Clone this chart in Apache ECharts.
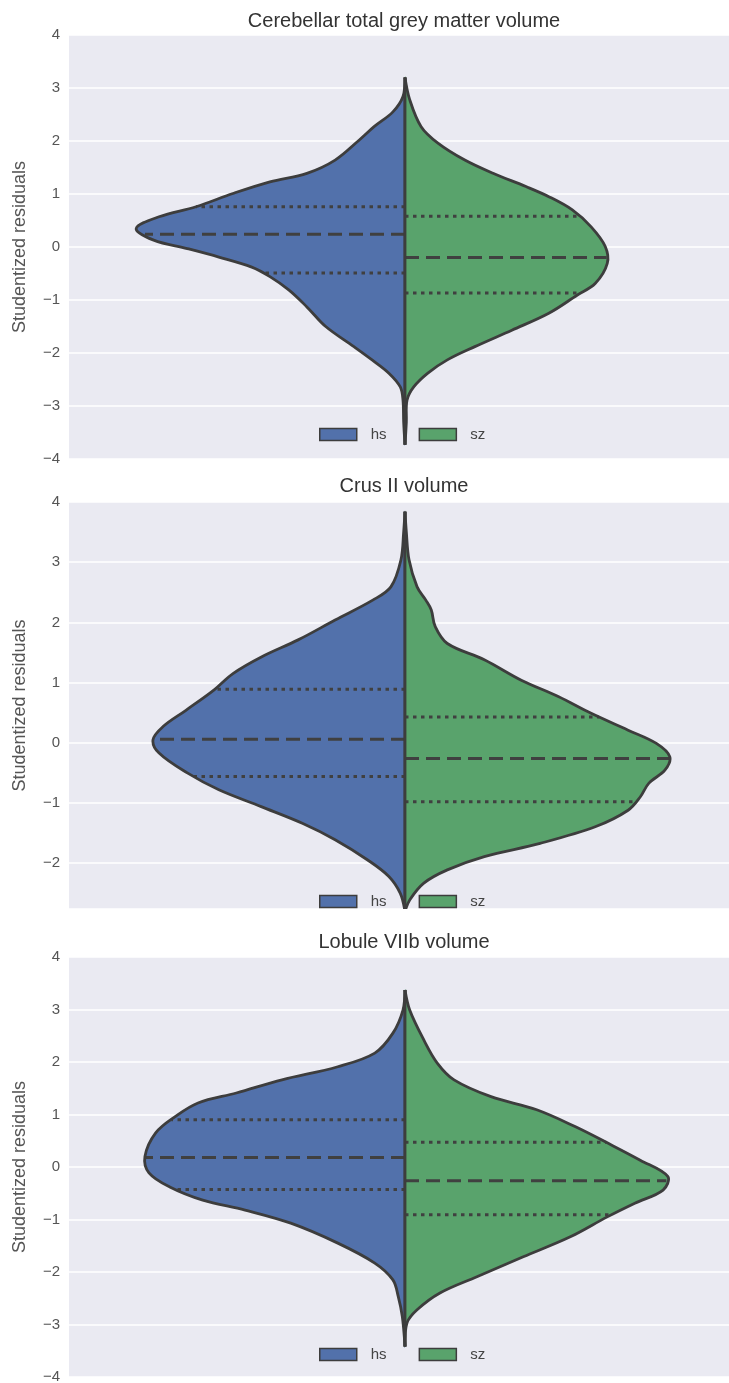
<!DOCTYPE html>
<html><head><meta charset="utf-8">
<script src="https://cdn.jsdelivr.net/npm/echarts@6/dist/echarts.min.js"></script>
<style>html,body{margin:0;padding:0;background:#fff}#c{width:729px;height:1383px}</style>
</head><body><div id="c"></div>
<script>
// ---- data ----
const categories = ['hs', 'sz'];
const panelTitles = ['Cerebellar total grey matter volume', 'Crus II volume', 'Lobule VIIb volume'];
const yAxisName = 'Studentized residuals';

// Panel 1: Cerebellar total grey matter volume  (y = residual, w = half-width of the density)
const p1HsY = [3.20, 2.84, 2.55, 2.27, 2.02, 1.64, 1.39, 1.23, 1.01, 0.76, 0.57, 0.35, 0.13, -0.03, -0.19, -0.38, -0.56, -0.81, -1.13, -1.50, -1.88, -2.13, -2.38, -2.64, -2.89, -3.30, -3.73];
const p1HsW = [0, .003, .018, .046, .068, .104, .146, .201, .256, .311, .366, .400, .374, .324, .277, .228, .201, .173, .146, .118, .076, .049, .024, .007, .003, .002, 0];
const p1SzY = [3.20, 2.78, 2.27, 1.96, 1.64, 1.39, 1.14, 0.95, 0.70, 0.38, 0.01, -0.31, -0.69, -0.91, -1.25, -1.57, -1.88, -2.13, -2.38, -2.64, -2.89, -3.30, -3.73];
const p1SzW = [0, .007, .024, .049, .089, .131, .180, .214, .249, .277, .298, .301, .283, .256, .214, .159, .104, .063, .034, .013, .003, .002, 0];
const p1HsQ = [0.76, 0.24, -0.49];
const p1SzQ = [0.58, -0.20, -0.87];

// Panel 2: Crus II volume
const p2HsY = [3.84, 3.50, 3.04, 2.59, 2.37, 2.04, 1.71, 1.43, 1.15, 0.88, 0.54, 0.27, 0.05, -0.17, -0.50, -0.78, -1.06, -1.34, -1.61, -1.95, -2.22, -2.50, -2.80];
const p2HsW = [0, .002, .006, .021, .048, .104, .159, .213, .256, .284, .326, .360, .375, .366, .324, .277, .214, .152, .104, .055, .024, .007, 0];
const p2SzY = [3.84, 3.50, 3.04, 2.59, 2.37, 2.21, 1.93, 1.65, 1.38, 1.04, 0.77, 0.49, 0.21, -0.01, -0.23, -0.45, -0.67, -0.90, -1.12, -1.39, -1.67, -1.89, -2.11, -2.33, -2.61, -2.80];
const p2SzW = [0, .002, .006, .018, .031, .039, .045, .063, .118, .173, .228, .277, .332, .374, .394, .387, .363, .350, .332, .284, .201, .118, .063, .028, .007, 0];
const p2HsQ = [0.89, 0.06, -0.56];
const p2SzQ = [0.43, -0.26, -0.98];

// Panel 3: Lobule VIIb volume
const p3HsY = [3.37, 2.99, 2.55, 2.17, 1.91, 1.66, 1.41, 1.22, 0.96, 0.65, 0.20, -0.11, -0.38, -0.63, -0.82, -1.07, -1.45, -1.83, -2.15, -2.47, -2.85, -3.42];
const p3HsW = [0, .003, .018, .045, .100, .183, .251, .308, .342, .371, .387, .381, .350, .301, .238, .170, .100, .045, .018, .010, .004, 0];
const p3SzY = [3.37, 2.99, 2.42, 1.98, 1.66, 1.34, 1.09, 0.77, 0.46, 0.13, -0.18, -0.44, -0.69, -0.95, -1.33, -1.71, -2.09, -2.40, -2.72, -2.97, -3.42];
const p3SzW = [0, .007, .028, .048, .073, .128, .196, .253, .301, .350, .391, .384, .342, .301, .246, .176, .107, .052, .018, .003, 0];
const p3HsQ = [0.90, 0.18, -0.43];
const p3SzQ = [0.47, -0.26, -0.91];

const yRanges = [[-4, 4], [-2.76, 4], [-4, 4]];

// ---- styling ----
const colors = ['#5271AB', '#59A36C'];
const edge = '#3d3d3d';
const FONT = 'Liberation Sans, Arial, sans-serif';
const layout = [
  { top: 35, height: 424, titleTop: 11, legendTop: 427 },
  { top: 502, height: 407, titleTop: 476, legendTop: 894 },
  { top: 957, height: 420, titleTop: 932, legendTop: 1347 }
];
const panels = [
  { hs: { y: p1HsY, w: p1HsW, q: p1HsQ }, sz: { y: p1SzY, w: p1SzW, q: p1SzQ } },
  { hs: { y: p2HsY, w: p2HsW, q: p2HsQ }, sz: { y: p2SzY, w: p2SzW, q: p2SzQ } },
  { hs: { y: p3HsY, w: p3HsW, q: p3HsQ }, sz: { y: p3SzY, w: p3SzW, q: p3SzQ } }
];

function widthAt(ys, ws, v) {
  for (let i = 0; i < ys.length - 1; i++) {
    const a = ys[i], b = ys[i + 1];
    if (v <= a && v >= b) {
      const t = (a - v) / (a - b);
      return ws[i] + t * (ws[i + 1] - ws[i]);
    }
  }
  return 0;
}

function makeSeries(pi, gi) {
  const side = gi === 0 ? -1 : 1;
  const d = panels[pi][categories[gi]];
  return {
    type: 'custom', name: categories[gi], xAxisIndex: pi, yAxisIndex: pi, clip: true,
    itemStyle: { color: colors[gi] },
    data: [[0, 0]],
    silent: true,
    renderItem: function (params, api) {
      const pts = d.y.map((v, i) => api.coord([side * d.w[i], v]));
      const c0 = api.coord([0, d.y[0]]);
      const c1 = api.coord([0, d.y[d.y.length - 1]]);
      const children = [
        { type: 'polygon', shape: { points: pts, smooth: 0.35 }, style: { fill: colors[gi], stroke: null, lineWidth: 0 } }
      ];
      d.q.forEach((q, k) => {
        const w = widthAt(d.y, d.w, q);
        const a = api.coord([0, q]), b = api.coord([side * w, q]);
        children.push({
          type: 'line', shape: { x1: a[0], y1: a[1], x2: b[0], y2: b[1] },
          style: { stroke: '#404040', lineWidth: 3, lineDash: k === 1 ? [14, 7] : [3.5, 4.5] }
        });
      });
      children.push({ type: 'polyline', shape: { points: pts, smooth: 0.35 }, style: { fill: null, stroke: edge, lineWidth: 2.8 } });
      children.push({ type: 'line', shape: { x1: c0[0], y1: c0[1], x2: c1[0], y2: c1[1] }, style: { stroke: edge, lineWidth: 2.8 } });
      return { type: 'group', children: children };
    }
  };
}

const grids = [], xAxes = [], yAxes = [], titles = [], legends = [], series = [];
layout.forEach((L, i) => {
  grids.push({ left: 69, width: 672, top: L.top, height: L.height, show: true, backgroundColor: '#EAEAF2', borderWidth: 0, outerBoundsMode: 'none', containLabel: false });
  xAxes.push({ gridIndex: i, type: 'value', min: -0.5, max: 0.5, show: false });
  const yr = yRanges[i];
  const ya = {
    gridIndex: i, type: 'value', min: yr[0], max: yr[1],
    axisLine: { show: false }, axisTick: { show: false },
    splitLine: { show: true, lineStyle: { color: '#ffffff', width: 1.6 } },
    axisLabel: {
      color: '#555', fontSize: 15, margin: 9, fontFamily: FONT,
      formatter: v => Number.isInteger(v) ? (v < 0 ? '\u2212' + (-v) : String(v)) : ''
    },
    name: yAxisName, nameLocation: 'middle', nameGap: 40,
    nameTextStyle: { fontSize: 18, color: '#555', fontFamily: FONT }
  };
  if (Number.isInteger(yr[0])) ya.interval = 1; else ya.splitNumber = 7;
  yAxes.push(ya);
  titles.push({
    text: panelTitles[i], left: 404, textAlign: 'center', top: L.titleTop, padding: 0,
    textStyle: { fontSize: 20, fontWeight: 'normal', color: '#333', fontFamily: FONT }
  });
  legends.push({
    left: 319, top: L.legendTop, padding: 0, itemWidth: 37, itemHeight: 12, itemGap: 32,
    icon: 'rect', selectedMode: false, data: categories,
    itemStyle: { borderColor: edge, borderWidth: 1.5 },
    textStyle: { fontSize: 15, color: '#444', fontFamily: FONT, padding: [0, 0, 0, 9] }
  });
  series.push(makeSeries(i, 0), makeSeries(i, 1));
});

const chart = echarts.init(document.getElementById('c'));
chart.setOption({
  animation: false,
  backgroundColor: '#ffffff',
  title: titles, grid: grids, xAxis: xAxes, yAxis: yAxes, legend: legends, series: series
});
</script></body></html>
